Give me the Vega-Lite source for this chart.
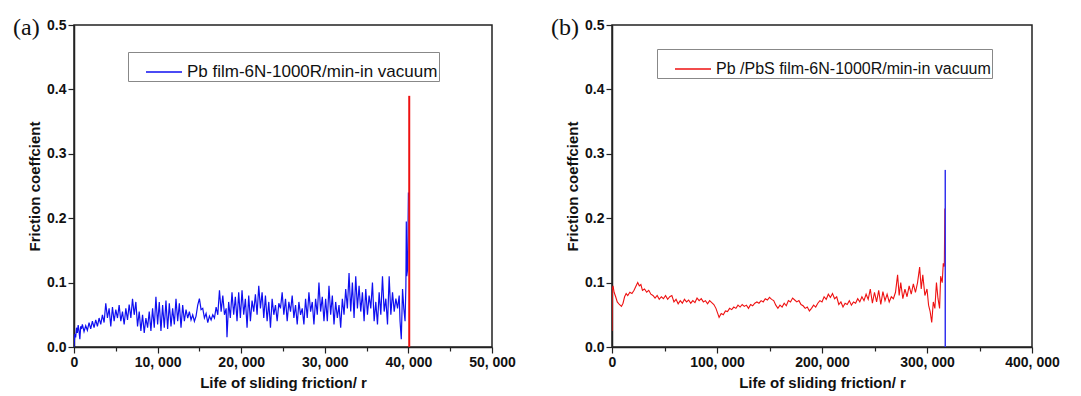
{
  "$schema": "https://vega.github.io/schema/vega-lite/v6.json",
  "background": "white",
  "padding": {"left": 12, "top": 15, "right": 5, "bottom": 5},
  "bounds": "flush",
  "spacing": 120,
  "datasets": {
    "pb": [
      {"r":0,"f":0.0},{"r":100,"f":0.02},{"r":200,"f":0.015},{"r":300,"f":0.03},{"r":400,"f":0.022},{"r":500,"f":0.034},{"r":600,"f":0.025},{"r":700,"f":0.012},{"r":800,"f":0.032},{"r":900,"f":0.028},
      {"r":1000,"f":0.035},{"r":1200,"f":0.024},{"r":1400,"f":0.033},{"r":1600,"f":0.026},{"r":1800,"f":0.038},{"r":2000,"f":0.028},{"r":2200,"f":0.04},{"r":2400,"f":0.03},{"r":2600,"f":0.042},{"r":2800,"f":0.032},
      {"r":3000,"f":0.045},{"r":3200,"f":0.035},{"r":3400,"f":0.05},{"r":3600,"f":0.038},{"r":3800,"f":0.068},{"r":4000,"f":0.045},{"r":4200,"f":0.06},{"r":4400,"f":0.032},{"r":4600,"f":0.062},{"r":4800,"f":0.04},
      {"r":5000,"f":0.058},{"r":5200,"f":0.045},{"r":5400,"f":0.065},{"r":5600,"f":0.04},{"r":5800,"f":0.055},{"r":6000,"f":0.035},{"r":6200,"f":0.06},{"r":6400,"f":0.042},{"r":6600,"f":0.066},{"r":6800,"f":0.045},
      {"r":7000,"f":0.075},{"r":7200,"f":0.05},{"r":7400,"f":0.07},{"r":7600,"f":0.032},{"r":7800,"f":0.055},{"r":8000,"f":0.025},{"r":8200,"f":0.05},{"r":8400,"f":0.022},{"r":8600,"f":0.045},{"r":8800,"f":0.03},
      {"r":9000,"f":0.055},{"r":9200,"f":0.025},{"r":9400,"f":0.06},{"r":9600,"f":0.03},{"r":9800,"f":0.078},{"r":10000,"f":0.035},{"r":10200,"f":0.07},{"r":10400,"f":0.025},{"r":10600,"f":0.065},{"r":10800,"f":0.03},
      {"r":11000,"f":0.072},{"r":11200,"f":0.028},{"r":11400,"f":0.068},{"r":11600,"f":0.032},{"r":11800,"f":0.06},{"r":12000,"f":0.035},{"r":12200,"f":0.075},{"r":12400,"f":0.04},{"r":12600,"f":0.068},{"r":12800,"f":0.03},
      {"r":13000,"f":0.065},{"r":13200,"f":0.04},{"r":13400,"f":0.058},{"r":13600,"f":0.045},{"r":13800,"f":0.055},{"r":14000,"f":0.042},{"r":14200,"f":0.05},{"r":14400,"f":0.04},{"r":14600,"f":0.048},{"r":14800,"f":0.065},
      {"r":15000,"f":0.075},{"r":15200,"f":0.058},{"r":15400,"f":0.06},{"r":15600,"f":0.045},{"r":15800,"f":0.052},{"r":16000,"f":0.038},{"r":16200,"f":0.048},{"r":16400,"f":0.042},{"r":16600,"f":0.05},{"r":16800,"f":0.045},
      {"r":17000,"f":0.062},{"r":17200,"f":0.05},{"r":17400,"f":0.088},{"r":17600,"f":0.055},{"r":17800,"f":0.08},{"r":18000,"f":0.05},{"r":18200,"f":0.06},{"r":18300,"f":0.015},{"r":18500,"f":0.07},{"r":18700,"f":0.045},
      {"r":18900,"f":0.085},{"r":19100,"f":0.05},{"r":19300,"f":0.078},{"r":19500,"f":0.04},{"r":19700,"f":0.085},{"r":19900,"f":0.045},{"r":20100,"f":0.088},{"r":20300,"f":0.05},{"r":20500,"f":0.075},{"r":20700,"f":0.03},
      {"r":20900,"f":0.08},{"r":21100,"f":0.04},{"r":21300,"f":0.072},{"r":21500,"f":0.055},{"r":21700,"f":0.082},{"r":21900,"f":0.05},{"r":22100,"f":0.095},{"r":22300,"f":0.06},{"r":22500,"f":0.085},{"r":22700,"f":0.045},
      {"r":22900,"f":0.08},{"r":23100,"f":0.04},{"r":23300,"f":0.07},{"r":23500,"f":0.03},{"r":23700,"f":0.075},{"r":23900,"f":0.05},{"r":24100,"f":0.065},{"r":24300,"f":0.04},{"r":24500,"f":0.068},{"r":24700,"f":0.06},
      {"r":24900,"f":0.085},{"r":25100,"f":0.05},{"r":25300,"f":0.075},{"r":25500,"f":0.04},{"r":25700,"f":0.07},{"r":25900,"f":0.055},{"r":26100,"f":0.08},{"r":26300,"f":0.045},{"r":26500,"f":0.065},{"r":26700,"f":0.035},
      {"r":26900,"f":0.07},{"r":27100,"f":0.05},{"r":27300,"f":0.06},{"r":27500,"f":0.035},{"r":27700,"f":0.075},{"r":27900,"f":0.045},{"r":28100,"f":0.085},{"r":28300,"f":0.055},{"r":28500,"f":0.07},{"r":28700,"f":0.035},
      {"r":28900,"f":0.075},{"r":29100,"f":0.05},{"r":29300,"f":0.1},{"r":29500,"f":0.055},{"r":29700,"f":0.078},{"r":29900,"f":0.04},{"r":30100,"f":0.075},{"r":30300,"f":0.04},{"r":30500,"f":0.095},{"r":30700,"f":0.05},
      {"r":30900,"f":0.08},{"r":31100,"f":0.035},{"r":31300,"f":0.07},{"r":31500,"f":0.045},{"r":31700,"f":0.065},{"r":31900,"f":0.03},{"r":32100,"f":0.075},{"r":32300,"f":0.05},{"r":32500,"f":0.09},{"r":32700,"f":0.06},
      {"r":32900,"f":0.115},{"r":33100,"f":0.055},{"r":33300,"f":0.1},{"r":33500,"f":0.045},{"r":33700,"f":0.11},{"r":33900,"f":0.06},{"r":34100,"f":0.095},{"r":34300,"f":0.055},{"r":34500,"f":0.085},{"r":34700,"f":0.04},
      {"r":34900,"f":0.09},{"r":35100,"f":0.05},{"r":35300,"f":0.08},{"r":35500,"f":0.06},{"r":35700,"f":0.1},{"r":35900,"f":0.04},{"r":36100,"f":0.07},{"r":36300,"f":0.035},{"r":36500,"f":0.085},{"r":36700,"f":0.05},
      {"r":36900,"f":0.11},{"r":37100,"f":0.055},{"r":37300,"f":0.075},{"r":37500,"f":0.035},{"r":37700,"f":0.11},{"r":37900,"f":0.05},{"r":38100,"f":0.085},{"r":38300,"f":0.055},{"r":38500,"f":0.075},{"r":38700,"f":0.06},
      {"r":38900,"f":0.08},{"r":39000,"f":0.04},{"r":39150,"f":0.012},{"r":39300,"f":0.09},{"r":39450,"f":0.06},{"r":39600,"f":0.04},{"r":39700,"f":0.095},{"r":39750,"f":0.195},{"r":39800,"f":0.11},{"r":39900,"f":0.12},
      {"r":40000,"f":0.24}
    ],
    "pbs": [
      {"r":0,"f":0.025},{"r":300,"f":0.09},{"r":1000,"f":0.095},{"r":2000,"f":0.085},{"r":3500,"f":0.078},{"r":5000,"f":0.07},{"r":7000,"f":0.066},{"r":9000,"f":0.063},{"r":10500,"f":0.068},{"r":12000,"f":0.078},
      {"r":13500,"f":0.083},{"r":15000,"f":0.08},{"r":17000,"f":0.085},{"r":19000,"f":0.083},{"r":21000,"f":0.088},{"r":23000,"f":0.095},{"r":24500,"f":0.1},{"r":26000,"f":0.095},{"r":27500,"f":0.097},{"r":29000,"f":0.088},
      {"r":31000,"f":0.09},{"r":33000,"f":0.085},{"r":35000,"f":0.088},{"r":37000,"f":0.082},{"r":39000,"f":0.08},{"r":41000,"f":0.076},{"r":43000,"f":0.08},{"r":45000,"f":0.074},{"r":47000,"f":0.078},{"r":49000,"f":0.075},
      {"r":51000,"f":0.08},{"r":53000,"f":0.074},{"r":55000,"f":0.078},{"r":57000,"f":0.08},{"r":59000,"f":0.07},{"r":61000,"f":0.074},{"r":63000,"f":0.067},{"r":65000,"f":0.072},{"r":67000,"f":0.068},{"r":69000,"f":0.074},
      {"r":71000,"f":0.07},{"r":73000,"f":0.073},{"r":75000,"f":0.068},{"r":77000,"f":0.072},{"r":79000,"f":0.069},{"r":81000,"f":0.076},{"r":83000,"f":0.072},{"r":85000,"f":0.075},{"r":87000,"f":0.07},{"r":89000,"f":0.072},
      {"r":91000,"f":0.067},{"r":93000,"f":0.072},{"r":95000,"f":0.069},{"r":97000,"f":0.066},{"r":99000,"f":0.06},{"r":100500,"f":0.053},{"r":102000,"f":0.046},{"r":104000,"f":0.052},{"r":106000,"f":0.05},{"r":108000,"f":0.056},
      {"r":110000,"f":0.055},{"r":112000,"f":0.06},{"r":114000,"f":0.058},{"r":116000,"f":0.062},{"r":118000,"f":0.06},{"r":120000,"f":0.065},{"r":122000,"f":0.062},{"r":124000,"f":0.066},{"r":126000,"f":0.063},{"r":128000,"f":0.065},
      {"r":130000,"f":0.06},{"r":132000,"f":0.066},{"r":134000,"f":0.064},{"r":136000,"f":0.068},{"r":138000,"f":0.07},{"r":140000,"f":0.068},{"r":142000,"f":0.072},{"r":144000,"f":0.07},{"r":146000,"f":0.075},{"r":148000,"f":0.073},
      {"r":150000,"f":0.077},{"r":152000,"f":0.074},{"r":154000,"f":0.072},{"r":156000,"f":0.065},{"r":158000,"f":0.06},{"r":160000,"f":0.065},{"r":162000,"f":0.062},{"r":164000,"f":0.068},{"r":166000,"f":0.064},{"r":168000,"f":0.072},
      {"r":170000,"f":0.07},{"r":172000,"f":0.076},{"r":174000,"f":0.073},{"r":176000,"f":0.07},{"r":178000,"f":0.072},{"r":180000,"f":0.066},{"r":182000,"f":0.064},{"r":184000,"f":0.06},{"r":186000,"f":0.062},{"r":188000,"f":0.056},
      {"r":190000,"f":0.06},{"r":192000,"f":0.065},{"r":194000,"f":0.062},{"r":196000,"f":0.068},{"r":198000,"f":0.072},{"r":200000,"f":0.07},{"r":202000,"f":0.078},{"r":204000,"f":0.074},{"r":206000,"f":0.082},{"r":208000,"f":0.077},
      {"r":210000,"f":0.083},{"r":212000,"f":0.075},{"r":214000,"f":0.078},{"r":216000,"f":0.066},{"r":218000,"f":0.07},{"r":220000,"f":0.062},{"r":222000,"f":0.068},{"r":224000,"f":0.066},{"r":226000,"f":0.072},{"r":228000,"f":0.065},
      {"r":230000,"f":0.07},{"r":232000,"f":0.068},{"r":234000,"f":0.075},{"r":236000,"f":0.07},{"r":238000,"f":0.078},{"r":240000,"f":0.072},{"r":242000,"f":0.082},{"r":244000,"f":0.074},{"r":246000,"f":0.09},{"r":248000,"f":0.068},
      {"r":250000,"f":0.085},{"r":252000,"f":0.07},{"r":254000,"f":0.088},{"r":256000,"f":0.066},{"r":258000,"f":0.086},{"r":260000,"f":0.072},{"r":262000,"f":0.082},{"r":264000,"f":0.07},{"r":266000,"f":0.078},{"r":268000,"f":0.075},
      {"r":270000,"f":0.085},{"r":272000,"f":0.112},{"r":273500,"f":0.08},{"r":275000,"f":0.1},{"r":277000,"f":0.075},{"r":279000,"f":0.09},{"r":281000,"f":0.078},{"r":283000,"f":0.095},{"r":285000,"f":0.082},{"r":287000,"f":0.098},
      {"r":289000,"f":0.085},{"r":291000,"f":0.1},{"r":293000,"f":0.124},{"r":294500,"f":0.09},{"r":296000,"f":0.112},{"r":298000,"f":0.08},{"r":300000,"f":0.09},{"r":301500,"f":0.065},{"r":303000,"f":0.055},{"r":304500,"f":0.038},
      {"r":306000,"f":0.07},{"r":307500,"f":0.06},{"r":309000,"f":0.1},{"r":310500,"f":0.075},{"r":312000,"f":0.06},{"r":313000,"f":0.11},{"r":314500,"f":0.1},{"r":315500,"f":0.13},{"r":316500,"f":0.125},{"r":317000,"f":0.215}
    ]
  },
  "config": {
    "font": "Liberation Sans",
    "view": {"stroke": "#222", "strokeWidth": 1.5},
    "axis": {
      "grid": false,
      "domainColor": "#222",
      "domainWidth": 1.5,
      "tickColor": "#222",
      "tickWidth": 1.2,
      "labelFont": "Liberation Sans",
      "labelFontSize": 14,
      "labelFontWeight": "bold",
      "labelColor": "#111",
      "labelOverlap": false,
      "labelFlush": false,
      "labelBound": false,
      "titleFont": "Liberation Sans",
      "titleFontSize": 15,
      "titleFontWeight": "bold",
      "titleColor": "#111"
    },
    "legend": {
      "orient": "none",
      "title": null,
      "symbolType": "stroke",
      "symbolSize": 1296,
      "symbolStrokeWidth": 1.5,
      "symbolOffset": 16,
      "labelFont": "Liberation Sans",
      "labelFontSize": 16,
      "labelColor": "#111",
      "labelLimit": 0,
      "labelExpr": "datum.label + '   '",
      "strokeColor": "#888",
      "fillColor": "white",
      "padding": 1,
      "labelOffset": 4
    },
    "title": {"font": "Liberation Serif", "fontSize": 24, "fontWeight": "normal", "color": "#111", "anchor": "start", "frame": "group"}
  },
  "hconcat": [
    {
      "width": 418,
      "height": 322,
      "title": {"text": "(a)", "dx": -61, "offset": -22},
      "layer": [
        {
          "data": {"name": "pb"},
          "transform": [{"calculate": "'Pb film-6N-1000R/min-in vacuum'", "as": "series"}],
          "mark": {"type": "line", "strokeWidth": 1.2, "clip": true},
          "encoding": {
            "x": {"field": "r", "type": "quantitative", "scale": {"domain": [0, 50000], "nice": false},
              "axis": {"title": "Life of sliding friction/ r", "titlePadding": 6,
                "values": [0,5000,10000,15000,20000,25000,30000,35000,40000,45000,50000],
                "labelExpr": "datum.value % 10000 == 0 ? replace(format(datum.value, ','), ',', ', ') : ''",
                "tickSize": {"condition": {"test": "datum.value % 10000 == 0", "value": 6}, "value": 4}}},
            "y": {"field": "f", "type": "quantitative", "scale": {"domain": [0, 0.5], "nice": false},
              "axis": {"title": "Friction coeffcient", "titlePadding": 4,
                "values": [0,0.05,0.1,0.15,0.2,0.25,0.3,0.35,0.4,0.45,0.5],
                "labelExpr": "round(datum.value*20) % 2 == 0 ? format(datum.value, '.1f') : ''",
                "tickSize": {"condition": {"test": "round(datum.value*20) % 2 == 0", "value": 6}, "value": 4}}},
            "color": {"field": "series", "type": "nominal", "scale": {"range": ["#0f0ff0"]},
              "legend": {"legendX": 54, "legendY": 27, "labelFontSize": 17, "symbolStrokeColor": "#7070f0"}}
          }
        },
        {
          "data": {"values": [{"r": 40100, "f": 0, "f2": 0.39}]},
          "mark": {"type": "rule", "color": "#ee1111", "strokeWidth": 2},
          "encoding": {
            "x": {"field": "r", "type": "quantitative"},
            "y": {"field": "f", "type": "quantitative"},
            "y2": {"field": "f2"}
          }
        }
      ]
    },
    {
      "width": 420,
      "height": 322,
      "title": {"text": "(b)", "dx": -61, "offset": -22},
      "layer": [
        {
          "data": {"name": "pbs"},
          "transform": [{"calculate": "'Pb /PbS film-6N-1000R/min-in vacuum'", "as": "series"}],
          "mark": {"type": "line", "strokeWidth": 1.1, "clip": true},
          "encoding": {
            "x": {"field": "r", "type": "quantitative", "scale": {"domain": [0, 400000], "nice": false},
              "axis": {"title": "Life of sliding friction/ r", "titlePadding": 6,
                "values": [0,50000,100000,150000,200000,250000,300000,350000,400000],
                "labelExpr": "datum.value % 100000 == 0 ? replace(format(datum.value, ','), ',', ', ') : ''",
                "tickSize": {"condition": {"test": "datum.value % 100000 == 0", "value": 6}, "value": 4}}},
            "y": {"field": "f", "type": "quantitative", "scale": {"domain": [0, 0.5], "nice": false},
              "axis": {"title": "Friction coeffcient", "titlePadding": 4,
                "values": [0,0.05,0.1,0.15,0.2,0.25,0.3,0.35,0.4,0.45,0.5],
                "labelExpr": "round(datum.value*20) % 2 == 0 ? format(datum.value, '.1f') : ''",
                "tickSize": {"condition": {"test": "round(datum.value*20) % 2 == 0", "value": 6}, "value": 4}}},
            "color": {"field": "series", "type": "nominal", "scale": {"range": ["#ee1111"]},
              "legend": {"legendX": 45, "legendY": 24, "symbolStrokeColor": "#f07070"}}
          }
        },
        {
          "data": {"values": [{"r": 317400, "f": 0, "f2": 0.275}]},
          "mark": {"type": "rule", "color": "#3333ee", "strokeWidth": 1.5},
          "encoding": {
            "x": {"field": "r", "type": "quantitative"},
            "y": {"field": "f", "type": "quantitative"},
            "y2": {"field": "f2"}
          }
        }
      ]
    }
  ],
  "resolve": {"scale": {"color": "independent", "x": "independent", "y": "independent"}, "legend": {"color": "independent"}}
}
